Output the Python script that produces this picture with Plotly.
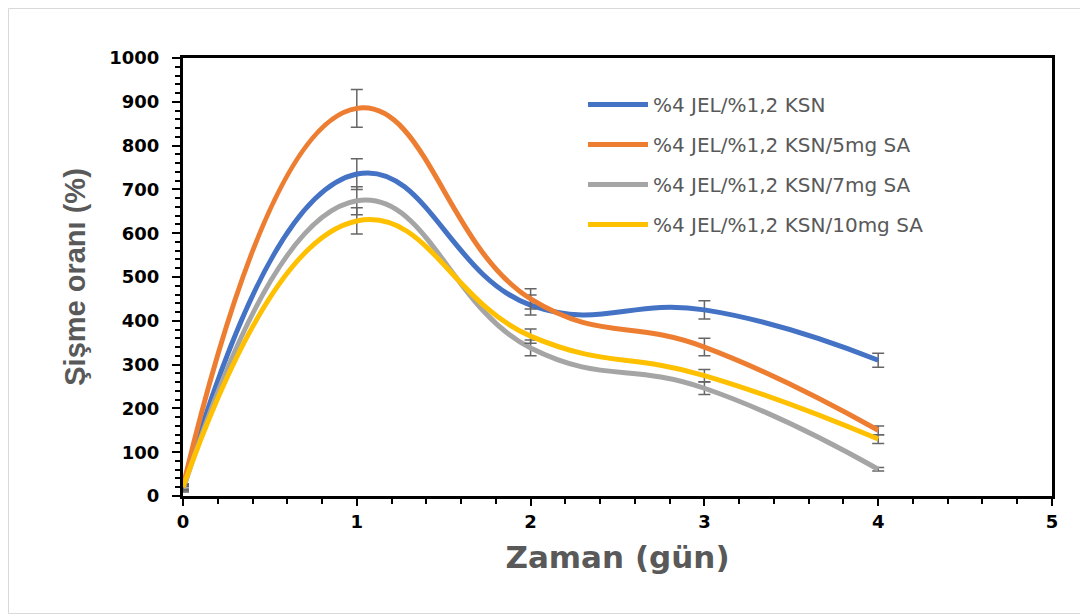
import plotly.graph_objects as go

days = [0, 1, 2, 3, 4]
series_names = ["%4 JEL/%1,2 KSN", "%4 JEL/%1,2 KSN/5mg SA",
                "%4 JEL/%1,2 KSN/7mg SA", "%4 JEL/%1,2 KSN/10mg SA"]
blue_vals = [18, 735, 436, 425, 310]
blue_err = [6, 35, 23, 21, 16]
orange_vals = [22, 885, 450, 340, 150]
orange_err = [6, 43, 23, 20, 10]
gray_vals = [15, 674, 338, 246, 61]
gray_err = [6, 32, 18, 14, 4]
yellow_vals = [20, 628, 365, 275, 130]
yellow_err = [6, 30, 16, 14, 10]
colors = ["#4472C4", "#ED7D31", "#A5A5A5", "#FFC000"]

x_ticks = [0, 1, 2, 3, 4, 5]
y_ticks = [0, 100, 200, 300, 400, 500, 600, 700, 800, 900, 1000]

fig = go.Figure()
for i, (name, vals, errs) in enumerate(zip(series_names,
                                           [blue_vals, orange_vals, gray_vals, yellow_vals],
                                           [blue_err, orange_err, gray_err, yellow_err])):
    fig.add_trace(go.Scatter(
        x=days, y=vals, name=name, mode="lines", legendgroup=f"g{i}",
        line=dict(color=colors[i], width=5, shape="spline", smoothing=1.3),
        error_y=dict(type="data", array=errs, visible=True, color="#666666",
                     thickness=1.5, width=6),
    ))

W, H = 1080, 606
L, R, T, B = 175, 36, 50, 118
pw, ph = W - L - R, H - T - B

fig.update_layout(
    width=W, height=H,
    margin=dict(l=L, r=R, t=T, b=B),
    paper_bgcolor="white", plot_bgcolor="white",
    showlegend=True,
    legend=dict(x=(575 - L) / pw, y=1 - (77 - T) / ph, xanchor="left", yanchor="top",
                font=dict(family="DejaVu Sans", size=20, color="#595959"),
                bgcolor="rgba(0,0,0,0)", tracegroupgap=11, itemwidth=60),
    xaxis=dict(range=[0, 5], tickvals=x_ticks, showline=True, linecolor="black",
               linewidth=3, mirror=True, ticks="outside", ticklen=7, tickwidth=2,
               tickcolor="black", showgrid=False, zeroline=False,
               minor=dict(dtick=0.2, ticks="outside", ticklen=5, tickcolor="black", tickwidth=1.5),
               tickfont=dict(family="DejaVu Sans", size=18, color="black", weight="bold"),
               ticklabelstandoff=0,
               title=dict(text="Zaman (gün)", standoff=16,
                          font=dict(family="DejaVu Sans", size=31, color="#595959", weight="bold"))),
    yaxis=dict(range=[0, 1000], tickvals=y_ticks, showline=True, linecolor="black",
               linewidth=3, mirror=True, ticks="outside", ticklen=8, tickwidth=2,
               tickcolor="black", showgrid=False, zeroline=False,
               minor=dict(dtick=20, ticks="outside", ticklen=5, tickcolor="black", tickwidth=1.5),
               tickfont=dict(family="DejaVu Sans", size=18, color="black", weight="bold"),
               ticklabelstandoff=9,
               title=dict(text="Şişme oranı (%)", standoff=16,
                          font=dict(family="Liberation Sans", size=29, color="#595959", weight="bold"))),
    shapes=[dict(type="rect", xref="paper", yref="paper",
                 x0=(0.5 - L) / pw, x1=(W - 0.5 - L) / pw,
                 y0=1 - (H - 0.5 - T) / ph, y1=1 - (0.5 - T) / ph,
                 line=dict(color="#D9D9D9", width=1), layer="below")],
)

fig.write_html("out.html")
